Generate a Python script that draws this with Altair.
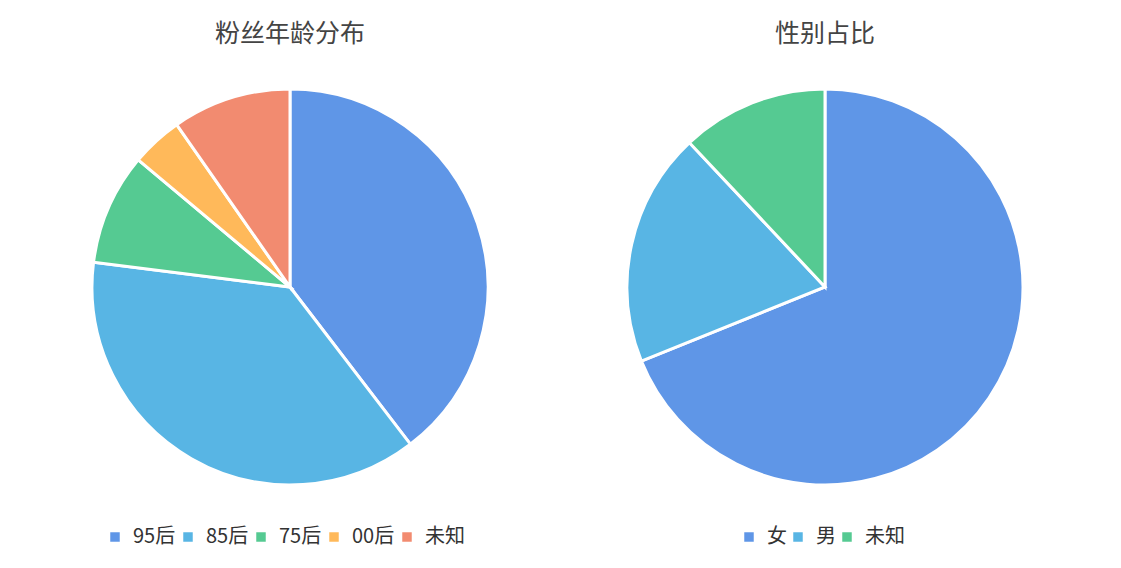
import altair as alt
import pandas as pd

age_labels = ["95后", "85后", "75后", "00后", "未知"]
age_values = [39.6, 37.4, 9.1, 4.2, 9.7]
age_colors = ["#5F96E7", "#58B5E4", "#55CA92", "#FFB95A", "#F28B70"]

gender_labels = ["女", "男", "未知"]
gender_values = [68.9, 19.1, 12.0]
gender_colors = ["#5F96E7", "#58B5E4", "#55CA92"]

FONT = "Noto Sans CJK SC"

def pie(labels, values, colors, title, legend_x, col_pad):
    df = pd.DataFrame({"label": labels, "value": values, "order": list(range(len(labels)))})
    return alt.Chart(df, title=alt.TitleParams(
        title, fontSize=25, font=FONT, fontWeight="normal", color="#444444", offset=36, anchor="middle"
    )).mark_arc(outerRadius=198, stroke="white", strokeWidth=3).encode(
        theta=alt.Theta("value:Q", stack=True),
        order=alt.Order("order:Q"),
        color=alt.Color("label:N", scale=alt.Scale(domain=labels, range=colors),
                        legend=alt.Legend(orient="none", legendX=legend_x, legendY=440,
                                          direction="horizontal", title=None,
                                          symbolType="square", symbolSize=90, labelFontSize=20,
                                          labelFont=FONT, labelColor="#333333",
                                          columnPadding=col_pad, labelOffset=8, symbolStrokeWidth=0)),
    ).properties(width=520, height=400)

left = pie(age_labels, age_values, age_colors, "粉丝年龄分布", 75, 2)
right = pie(gender_labels, gender_values, gender_colors, "性别占比", 174, 1)

chart = alt.hconcat(left, right, spacing=15).resolve_scale(color="independent").properties(
    padding={"left": 22, "top": 14, "right": 0, "bottom": 0}
).configure_view(stroke=None)

chart.save("out.html", embed_options={"renderer": "svg", "actions": False})
